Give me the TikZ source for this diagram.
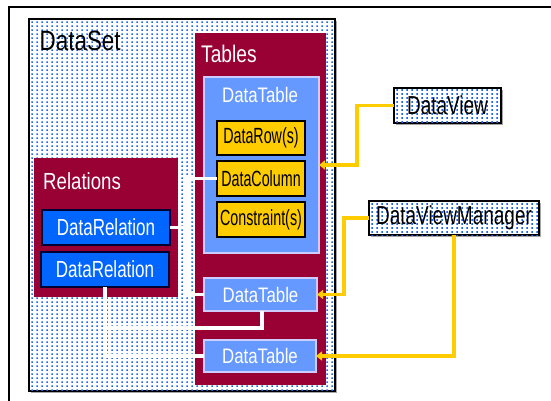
\documentclass[tikz,border=0pt]{standalone}
\usepackage{fontspec}
\setmainfont[FakeStretch=0.8]{Liberation Sans}
\newfontfamily\fmid[FakeStretch=0.73]{Liberation Sans}
\newfontfamily\fnarrow[FakeStretch=0.65]{Liberation Sans}
\usetikzlibrary{patterns,arrows.meta,shadows}
\pgfdeclarepatternformonly{bluedots}{\pgfqpoint{0pt}{0pt}}{\pgfqpoint{5pt}{4.4pt}}{\pgfqpoint{5pt}{4.4pt}}{\pgfpathrectangle{\pgfqpoint{1.5pt}{1.4pt}}{\pgfqpoint{2pt}{1.7pt}}\pgfusepath{fill}}
\definecolor{maroon}{HTML}{990033}
\definecolor{ltblue}{HTML}{6699FF}
\definecolor{relblue}{HTML}{0066FF}
\definecolor{gold}{HTML}{FFCC00}
\definecolor{dotblue}{HTML}{1E66F0}
\definecolor{lavender}{HTML}{CCCCFF}
\definecolor{navy}{HTML}{000033}
\tikzset{
  box/.style={anchor=north west, inner sep=0pt, outer sep=0pt},
  dotbox/.style={box, draw=black, line width=1.3pt, fill=white, postaction={pattern=bluedots, pattern color=dotblue},
    drop shadow={shadow xshift=1.8pt, shadow yshift=-1.8pt, opacity=1, fill=gray!70}},
  maroonbox/.style={box, fill=maroon},
  tablebox/.style={box, fill=ltblue, draw=lavender, line width=1.2pt, text=white, font=\fontsize{21}{24}\selectfont},
  ybox/.style={box, fill=gold, draw=black, line width=1.2pt, font=\fnarrow\fontsize{22}{25}\selectfont},
  relbox/.style={box, fill=relblue, draw=navy, line width=1.4pt, text=white, font=\fmid\fontsize{23.3}{26}\selectfont},
  viewbox/.style={dotbox, font=\fmid\fontsize{26}{29}\selectfont},
  lbl/.style={anchor=base west, inner sep=0pt},
  wline/.style={draw=white, line width=3.2pt},
  yarrow/.style={draw=gold, line width=3.2pt, -{Triangle[length=6pt,width=9pt]}},
}
\begin{document}
\begin{tikzpicture}[x=1pt,y=-1pt]
\useasboundingbox (0,0) rectangle (551,400);
% outer frame
\coordinate (fa) at (9,404);
\coordinate (fb) at (9,7);
\coordinate (fc) at (555,7);
\draw[line width=2.2pt] (fa) -- (fb) -- (fc);
% DataSet
\node[dotbox, minimum width=306pt, minimum height=372pt] (dataset) at (29,19) {};
\node[lbl, font=\fontsize{28}{32}\selectfont] (dslbl) at (39.5,50) {DataSet};
% Tables
\node[maroonbox, minimum width=131pt, minimum height=352pt] (tables) at (195,33) {};
\node[lbl, text=white, font=\fontsize{24}{28}\selectfont] (tbllbl) at (201,62) {Tables};
% big DataTable
\node[tablebox, minimum width=115pt, minimum height=176pt] (bigdt) at (204,77) {};
\node[lbl, text=white, font=\fontsize{21}{24}\selectfont] (bigdtlbl) at (222,102.5) {DataTable};
\node[ybox, minimum width=88pt, minimum height=34pt] (drow) at (217,121) {DataRow(s)};
\node[ybox, minimum width=88pt, minimum height=35pt] (dcol) at (217,161) {DataColumn};
\node[ybox, minimum width=88pt, minimum height=35pt] (dcon) at (217,202) {Constraint(s)};
% Relations
\node[maroonbox, minimum width=144pt, minimum height=139pt] (rels) at (34,158) {};
\node[lbl, text=white, font=\fontsize{23.3}{27}\selectfont] (relslbl) at (43,189) {Relations};
\node[relbox, minimum width=128pt, minimum height=35pt] (dr1) at (42,210) {DataRelation};
\node[relbox, minimum width=128pt, minimum height=35pt] (dr2) at (41,252) {DataRelation};
% small DataTables
\node[tablebox, minimum width=113pt, minimum height=33pt] (dt2) at (204,278) {DataTable};
\node[tablebox, minimum width=112pt, minimum height=32pt] (dt3) at (204,340) {DataTable};
% views
\node[viewbox, minimum width=107pt, minimum height=35pt] (dv) at (394,88) {DataView};
\node[viewbox, minimum width=170pt, minimum height=34pt] (dvm) at (369,201) {DataViewManager};
% white connectors
\coordinate (jv) at (186,230);
\coordinate (k) at (105,328);
\draw[wline] (dcol.west) -| (jv) |- (dt2.west);
\draw[wline] (dr1.east) -- (dr1.east -| jv);
\draw[wline] (dr2.south) |- (dt3.west);
\draw[wline] ([xshift=1.5pt]dt2.south) |- (k);
% yellow connectors
\coordinate (y1) at (357,130);
\coordinate (y2) at (344,250);
\draw[yarrow] (dv.west) -| (y1) |- (bigdt.east);
\draw[yarrow] (dvm.west) -| (y2) |- (dt2.east);
\draw[yarrow] (dvm.south) |- (dt3.east);
\end{tikzpicture}
\end{document}
